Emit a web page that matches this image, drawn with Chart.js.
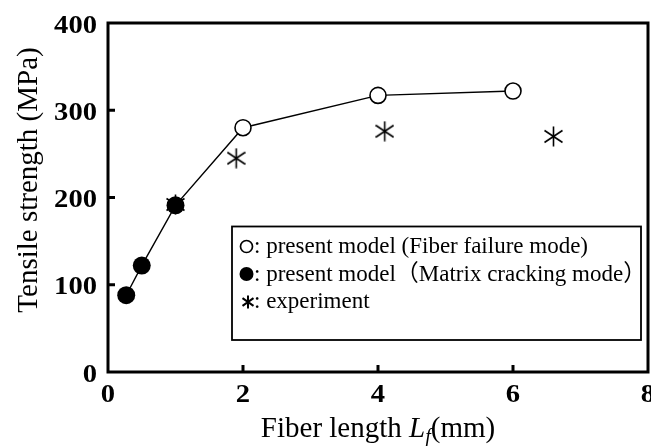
<!DOCTYPE html>
<html>
<head>
<meta charset="utf-8">
<script src="https://cdn.jsdelivr.net/npm/chart.js@4.4.1/dist/chart.umd.min.js"></script>
<style>
  html, body { margin: 0; padding: 0; background: #fff; }
  #wrap { width: 651px; height: 446px; position: relative; }
</style>
</head>
<body>
<div id="wrap"><canvas id="c" width="651" height="446"></canvas></div>
<script>
// ---- data ----
const matrixLength = [0.27, 0.5, 1.0];
const matrixStrength = [88, 122, 191];
const fiberLength = [2, 4, 6];
const fiberStrength = [280, 317, 322];
const expLength = [1.0, 1.9, 4.1, 6.6];
const expStrength = [192, 245, 276, 270];
const xTicks = [0, 2, 4, 6, 8];
const yTicks = [0, 100, 200, 300, 400];
const legendLabels = [
  ': present model (Fiber failure mode)',
  ': present model\uFF08Matrix cracking mode\uFF09',
  ': experiment'
];
const yTitle = 'Tensile strength (MPa)';

const SERIF = '"Liberation Serif", "Noto Sans CJK JP", serif';

function pts(xs, ys) { return xs.map((x, i) => ({ x: x, y: ys[i] })); }

function drawAsteriskAt(g, cx, cy, rx, ry, lw) {
  g.save();
  g.strokeStyle = '#000'; g.lineWidth = lw; g.lineCap = 'butt';
  g.beginPath();
  g.moveTo(cx, cy - ry); g.lineTo(cx, cy + ry);
  const dy = ry * 0.6;
  g.moveTo(cx - rx, cy - dy); g.lineTo(cx + rx, cy + dy);
  g.moveTo(cx + rx, cy - dy); g.lineTo(cx - rx, cy + dy);
  g.stroke();
  g.restore();
}
function makeAsterisk(w, h, lw) {
  const cv = document.createElement('canvas');
  cv.width = w; cv.height = h;
  drawAsteriskAt(cv.getContext('2d'), w / 2, h / 2, w / 2 - 0.5, h / 2 - 0.5, lw);
  return cv;
}
const asterisk = makeAsterisk(19, 21, 1.6);

const modelLine = pts(matrixLength, matrixStrength).concat(pts(fiberLength, fiberStrength));

function stretchText(ctx, text, x, y, font, sx, align) {
  ctx.save();
  ctx.font = font;
  ctx.translate(x, y);
  ctx.scale(sx, 1);
  ctx.textAlign = align;
  ctx.textBaseline = 'alphabetic';
  ctx.fillText(text, 0, 0);
  ctx.restore();
}

const frame = {
  id: 'frame',
  afterDraw(chart) {
    const ctx = chart.ctx, a = chart.chartArea;
    const xs = chart.scales.x, ys = chart.scales.y;
    ctx.save();
    ctx.strokeStyle = '#000';
    ctx.fillStyle = '#000';
    ctx.lineWidth = 3;
    ctx.strokeRect(a.left, a.top, a.right - a.left, a.bottom - a.top);
    // inward ticks
    ctx.beginPath();
    xTicks.forEach(v => {
      if (v === xTicks[0] || v === xTicks[xTicks.length - 1]) return;
      const p = xs.getPixelForValue(v);
      ctx.moveTo(p, a.bottom); ctx.lineTo(p, a.bottom - 7);
    });
    yTicks.forEach(v => {
      if (v === yTicks[0] || v === yTicks[yTicks.length - 1]) return;
      const p = ys.getPixelForValue(v);
      ctx.moveTo(a.left, p); ctx.lineTo(a.left + 7, p);
    });
    ctx.stroke();
    // tick labels
    const tickFont = 'bold 26px ' + SERIF;
    yTicks.forEach(v => stretchText(ctx, String(v), a.left - 11, ys.getPixelForValue(v) + 9.5, tickFont, 1.1, 'right'));
    xTicks.forEach(v => stretchText(ctx, String(v), xs.getPixelForValue(v), a.bottom + 30, tickFont, 1.1, 'center'));
    // y title
    ctx.save();
    ctx.translate(29.5, 180);
    ctx.rotate(-Math.PI / 2);
    ctx.font = '29px ' + SERIF;
    ctx.textAlign = 'center'; ctx.textBaseline = 'middle';
    ctx.fillText(yTitle, 0, 0);
    ctx.restore();
    // x title with italic L and subscript f
    const parts = [
      { t: 'Fiber length ', f: '29px ' + SERIF, dy: 0 },
      { t: 'L', f: 'italic 29px ' + SERIF, dy: 0 },
      { t: 'f', f: 'italic 20px ' + SERIF, dy: 6 },
      { t: '(mm)', f: '29px ' + SERIF, dy: 0 }
    ];
    let total = 0;
    parts.forEach(p => { ctx.font = p.f; p.w = ctx.measureText(p.t).width; total += p.w; });
    let x = (a.left + a.right) / 2 - total / 2;
    ctx.textAlign = 'left'; ctx.textBaseline = 'alphabetic';
    parts.forEach(p => { ctx.font = p.f; ctx.fillText(p.t, x, 437 + p.dy); x += p.w; });
    // legend
    ctx.lineWidth = 1.8;
    ctx.strokeRect(232, 226.5, 409, 113.5);
    const base = [253, 280.5, 308];
    ctx.textAlign = 'left'; ctx.textBaseline = 'alphabetic';
    ctx.font = '23px ' + SERIF;
    legendLabels.forEach((t, i) => ctx.fillText(t, 254, base[i]));
    // legend symbols
    ctx.lineWidth = 1.7;
    ctx.beginPath(); ctx.arc(246.5, base[0] - 6.5, 6, 0, Math.PI * 2); ctx.stroke();
    ctx.beginPath(); ctx.arc(246.5, base[1] - 6.5, 7, 0, Math.PI * 2); ctx.fill();
    drawAsteriskAt(ctx, 248, base[2] - 6, 5.5, 6.5, 2);
    ctx.restore();
  }
};

new Chart(document.getElementById('c'), {
  type: 'scatter',
  data: {
    datasets: [
      { label: 'model', type: 'line', data: modelLine, borderColor: '#000', borderWidth: 1.4,
        pointRadius: 0, fill: false, tension: 0, order: 4 },
      { label: 'experiment', data: pts(expLength, expStrength), pointStyle: asterisk,
        pointRadius: 10, order: 3 },
      { label: 'Fiber failure mode', data: pts(fiberLength, fiberStrength), pointStyle: 'circle',
        pointRadius: 8, borderColor: '#000', borderWidth: 1.6, backgroundColor: '#fff', order: 2 },
      { label: 'Matrix cracking mode', data: pts(matrixLength, matrixStrength), pointStyle: 'circle',
        pointRadius: 9, borderColor: '#000', borderWidth: 0, backgroundColor: '#000', order: 1 }
    ]
  },
  options: {
    responsive: false,
    animation: false,
    layout: { autoPadding: false, padding: { left: 108, right: 3, top: 23, bottom: 74 } },
    plugins: { legend: { display: false }, tooltip: { enabled: false } },
    scales: {
      x: { type: 'linear', min: 0, max: 8, display: false },
      y: { type: 'linear', min: 0, max: 400, display: false }
    }
  },
  plugins: [frame]
});
</script>
</body>
</html>
